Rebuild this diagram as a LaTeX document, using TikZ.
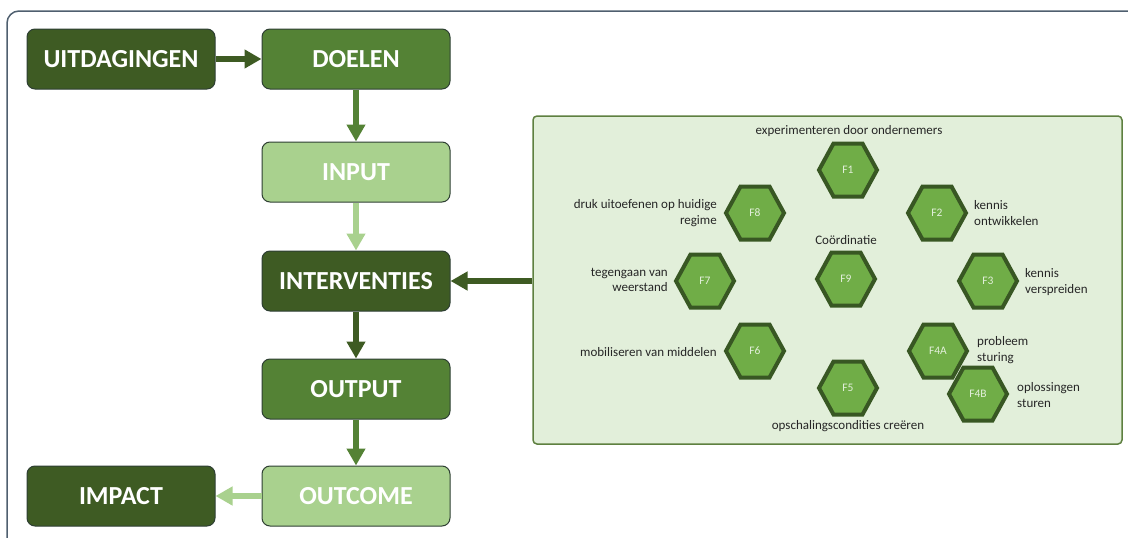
\documentclass[tikz,border=0pt]{standalone}
\usepackage{fontspec}
\setmainfont{Carlito}
\usetikzlibrary{arrows.meta}
\definecolor{dkg}{HTML}{3E5B23}
\definecolor{mdg}{HTML}{548235}
\definecolor{ltg}{HTML}{A9D18E}
\definecolor{bordc}{HTML}{2E3F33}
\definecolor{framec}{HTML}{4F5F6F}
\definecolor{panelf}{HTML}{E2EFDA}
\definecolor{paneld}{HTML}{5E8040}
\definecolor{hexf}{HTML}{70AD47}
\definecolor{hexd}{HTML}{385723}
\definecolor{lblc}{HTML}{262626}
\tikzset{
  box/.style={draw=bordc, line width=1pt, rounded corners=8pt, minimum width=188pt, minimum height=60pt, inner sep=0pt, text=white, font=\bfseries\fontsize{26}{30}\selectfont},
  arr/.style={line width=5.5pt, -{Triangle[length=17pt,width=18pt]}},
  panelbox/.style={draw=paneld, line width=1.5pt, fill=panelf, rounded corners=4pt, minimum width=589pt, minimum height=328pt, inner sep=0pt},
  hexs/.style={draw=hexd, fill=hexf, line width=4pt, line join=miter},
  hexl/.style={text=panelf, font=\fontsize{11.5}{13}\selectfont, inner sep=0pt},
  lbl/.style={text=lblc, font=\fontsize{13}{15.5}\selectfont, inner sep=0pt}
}
\newcommand\hexa[3]{%
  \coordinate (#1c) at (#2);
  \draw[hexs] (#1c) ++(-29,0) -- ++(14.5,-26.5) -- ++(29,0) -- ++(14.5,26.5) -- ++(-14.5,26.5) -- ++(-29,0) -- cycle;
  \node[hexl] (#1) at (#1c) {#3};
}
\begin{document}
\begin{tikzpicture}[x=1pt,y=-1pt]
\useasboundingbox (0,0) rectangle (1128,538);
\begin{scope}
\clip (0,0) rectangle (1128,538);
\draw[framec, line width=1.5pt, rounded corners=12pt] (7,11) rectangle (1160,570);
\end{scope}
% flow boxes
\node[box, fill=dkg] (uit) at (121,59) {UITDAGINGEN};
\node[box, fill=mdg] (doe) at (356,59) {DOELEN};
\node[box, fill=ltg] (inp) at (356,172) {INPUT};
\node[box, fill=dkg] (int) at (356,281) {INTERVENTIES};
\node[box, fill=mdg] (out) at (356,389) {OUTPUT};
\node[box, fill=ltg] (outc) at (356,496) {OUTCOME};
\node[box, fill=dkg] (imp) at (121,496) {IMPACT};
% panel
\node[panelbox] (panel) at (827.5,280) {};
% arrows
\draw[arr, dkg] (uit) -- (doe);
\draw[arr, mdg] (doe) -- (inp);
\draw[arr, ltg] (inp) -- (int);
\draw[arr, dkg] (int) -- (out);
\draw[arr, mdg] (out) -- (outc);
\draw[arr, ltg] (outc) -- (imp);
\draw[arr, dkg] (panel.west |- int) -- (int);
% hexagons
\hexa{f1}{848,170}{F1}
\hexa{f8}{755,213}{F8}
\hexa{f2}{937,213}{F2}
\hexa{f7}{705,281}{F7}
\hexa{f9}{846,279}{F9}
\hexa{f3}{988,281}{F3}
\hexa{f6}{755,351}{F6}
\hexa{f5}{848,388}{F5}
\hexa{f4a}{938,351}{F4A}
\hexa{f4b}{978,394}{F4B}
% labels
\node[lbl] (l1) at (849,131) {experimenteren door ondernemers};
\node[lbl, anchor=east, align=right] (l8) at (717,213) {druk uitoefenen op huidige\\regime};
\node[lbl] (l9) at (846,240) {Coördinatie};
\node[lbl, anchor=west, align=left] (l2) at (974,213) {kennis\\ontwikkelen};
\node[lbl, anchor=east, align=right] (l7) at (668,280) {tegengaan van\\weerstand};
\node[lbl, anchor=west, align=left] (l3) at (1025,282) {kennis\\verspreiden};
\node[lbl, anchor=east] (l6) at (717,352) {mobiliseren van middelen};
\node[lbl, anchor=west, align=left] (l4a) at (977,350) {probleem\\sturing};
\node[lbl, anchor=west, align=left] (l4b) at (1017,395) {oplossingen\\sturen};
\node[lbl] (l5) at (848,426) {opschalingscondities creëren};
\end{tikzpicture}
\end{document}
